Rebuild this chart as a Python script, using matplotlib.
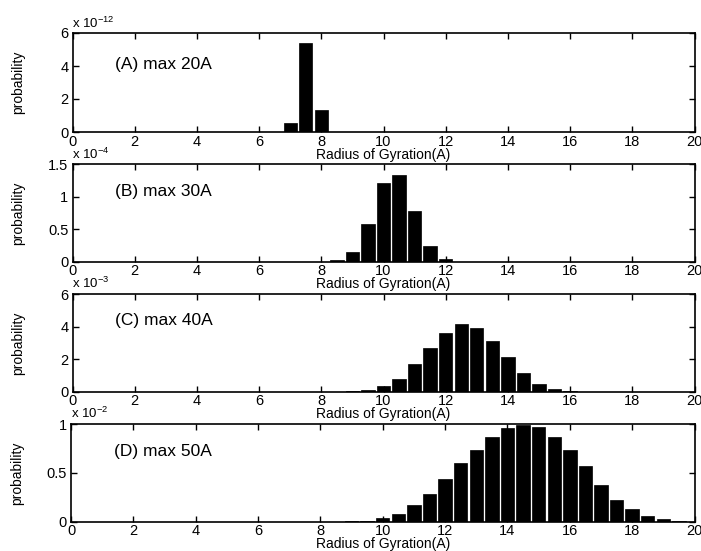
import matplotlib
matplotlib.use('Agg')
import matplotlib.pyplot as plt
from matplotlib.ticker import FormatStrFormatter

plt.rcParams['font.family'] = ['Liberation Sans', 'DejaVu Sans']
plt.rcParams['mathtext.default'] = 'regular'

# radius of gyration bin centres (A) and probabilities (mantissa, x 10^exp)
rg_a = [7.0, 7.5, 8.0]
prob_a = [0.57, 5.38, 1.36]

rg_b = [8.5, 9.0, 9.5, 10.0, 10.5, 11.0, 11.5, 12.0]
prob_b = [0.02, 0.145, 0.58, 1.21, 1.33, 0.775, 0.245, 0.035]

rg_c = [9.0, 9.5, 10.0, 10.5, 11.0, 11.5, 12.0, 12.5, 13.0, 13.5,
        14.0, 14.5, 15.0, 15.5, 16.0]
prob_c = [0.04, 0.12, 0.33, 0.79, 1.70, 2.67, 3.62, 4.14, 3.93, 3.12,
          2.13, 1.12, 0.48, 0.14, 0.04]

rg_d = [9.0, 9.5, 10.0, 10.5, 11.0, 11.5, 12.0, 12.5, 13.0, 13.5, 14.0,
        14.5, 15.0, 15.5, 16.0, 16.5, 17.0, 17.5, 18.0, 18.5, 19.0, 19.5]
prob_d = [0.004, 0.012, 0.034, 0.078, 0.173, 0.288, 0.437, 0.60, 0.736,
          0.871, 0.963, 0.99, 0.973, 0.871, 0.736, 0.566, 0.376, 0.227,
          0.125, 0.054, 0.024, 0.01]

labels = ['(A) max 20A', '(B) max 30A', '(C) max 40A', '(D) max 50A']
exponents = [-12, -4, -3, -2]
ymax = [6, 1.5, 6, 1]
yticks = [[0, 2, 4, 6], [0, 0.5, 1, 1.5], [0, 2, 4, 6], [0, 0.5, 1]]
xticks = [0, 2, 4, 6, 8, 10, 12, 14, 16, 18, 20]

W, H = 701, 551
fig = plt.figure(figsize=(W / 100, H / 100), dpi=100)

# panel boxes in pixels: (left, top, right, bottom)
boxes = [(72.5, 33, 694.5, 132),
         (72.5, 164.3, 694.5, 261.7),
         (72.5, 294, 694.5, 391.7),
         (71, 424, 694.5, 521.7)]
label_y = [0.68, 0.725, 0.728, 0.72]

data = [(rg_a, prob_a), (rg_b, prob_b), (rg_c, prob_c), (rg_d, prob_d)]

for i, (rg, prob) in enumerate(data):
    l, t, r, b = boxes[i]
    ax = fig.add_axes([l / W, 1 - b / H, (r - l) / W, (b - t) / H])
    ax.bar(rg, prob, width=0.43, color='black', edgecolor='black', linewidth=0.5)
    ax.set_xlim(0, 20)
    ax.set_ylim(0, ymax[i])
    ax.set_xticks(xticks)
    ax.set_yticks(yticks[i])
    ax.yaxis.set_major_formatter(FormatStrFormatter('%g'))
    ax.tick_params(direction='in', top=True, right=True, length=4, width=1,
                   labelsize=10.5)
    ax.tick_params(axis='x', pad=2)
    ax.tick_params(axis='y', pad=3)
    for sp in ax.spines.values():
        sp.set_linewidth(1.2)
    ax.text(0.069, label_y[i], labels[i], transform=ax.transAxes,
            fontsize=12.5, va='center', ha='left')
    ax.text(0.0, 1 + 5.5 / (b - t), 'x 10$^{%d}$' % exponents[i],
            transform=ax.transAxes, fontsize=9.5, ha='left', va='baseline')
    ax.set_xlabel('Radius of Gyration(A)', fontsize=10)
    ax.xaxis.set_label_coords(0.5, -15.5 / (b - t))
    ax.set_ylabel('probability', fontsize=10, va='center')
    ax.yaxis.set_label_coords(-0.087, 0.5)

fig.savefig('out.png', dpi=100)
